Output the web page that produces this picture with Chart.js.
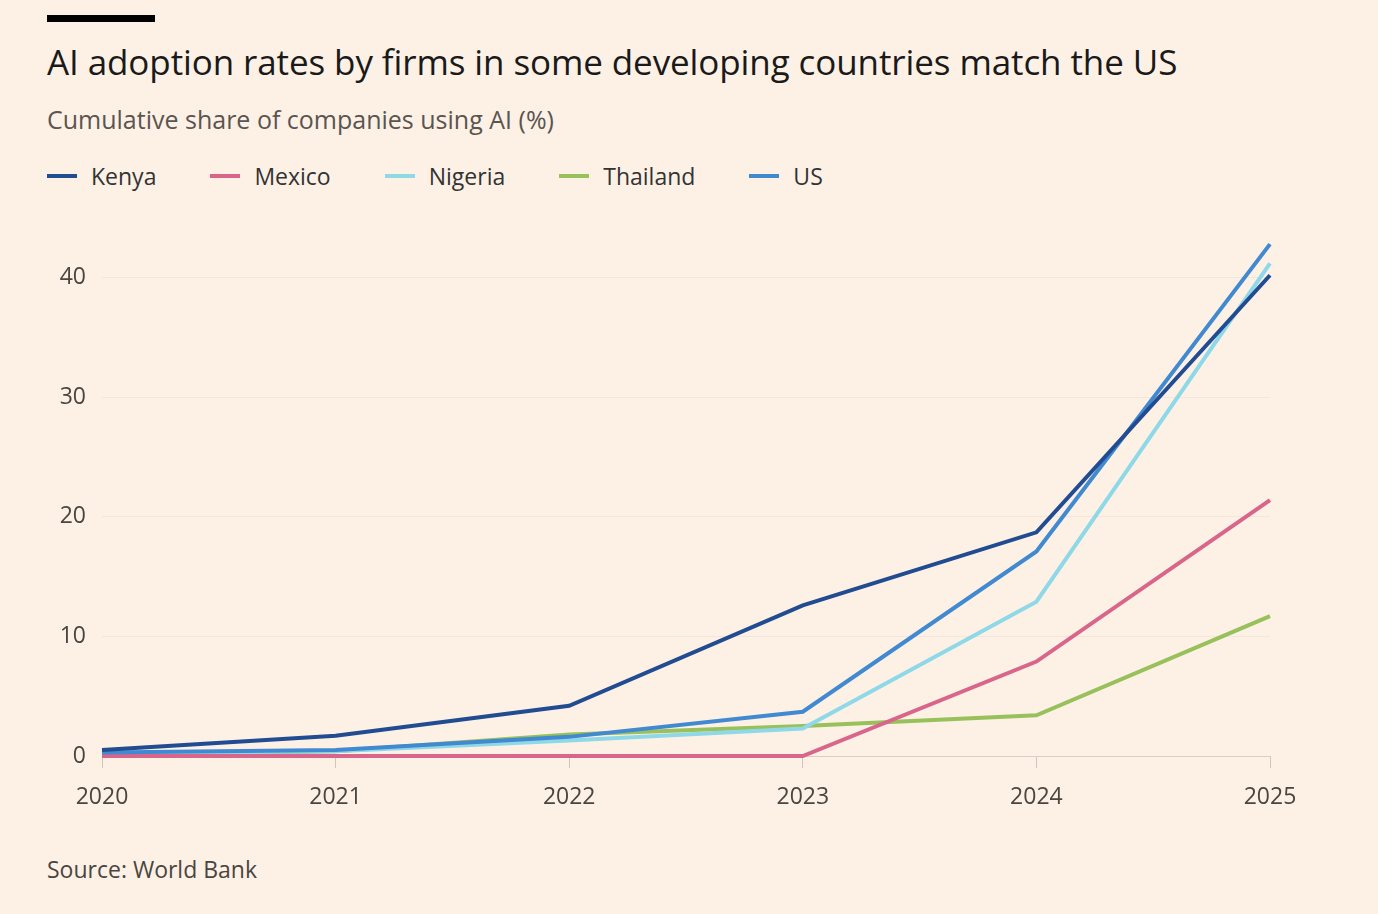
<!DOCTYPE html>
<html><head><meta charset="utf-8">
<script src="https://cdn.jsdelivr.net/npm/chart.js@4"></script>
<style>
body{margin:0;background:#fdf1e6;font-family:"Open Sans",Lato,sans-serif;width:1378px;height:914px;position:relative;overflow:hidden}
#bar{position:absolute;left:47px;top:15px;width:108px;height:7px;background:#000}
#title{position:absolute;left:47px;top:38px;font-size:35px;color:#1a1a1a;letter-spacing:-0.1px}
#sub{position:absolute;left:47px;top:102px;font-size:25px;color:#5a5550}
#legend{position:absolute;left:47px;top:160px;font-size:23px;color:#333;display:flex}
#legend span{display:flex;align-items:center;margin-right:54px}
#legend i{display:inline-block;width:30px;height:4px;margin-right:14px}
#src{position:absolute;left:47px;top:853px;font-size:23px;color:#4a4540}
#wrap{position:absolute;left:0;top:200px;width:1378px;height:620px}
</style></head><body>
<div id="bar"></div>
<div id="title">AI adoption rates by firms in some developing countries match the US</div>
<div id="sub">Cumulative share of companies using AI (%)</div>
<div id="legend"></div>
<div id="wrap"><canvas id="c"></canvas></div>
<div id="src">Source: World Bank</div>
<script>
const years=[2020,2021,2022,2023,2024,2025];
const kenya=[0.5,1.7,4.2,12.6,18.7,40.2];
const mexico=[0,0,0,0,7.9,21.4];
const nigeria=[0.2,0.4,1.3,2.3,12.9,41.2];
const thailand=[0.1,0.4,1.8,2.5,3.4,11.7];
const us=[0.3,0.5,1.6,3.7,17.1,42.8];
const series=[["Kenya",kenya,"#214c91"],["Mexico",mexico,"#d9668a"],["Nigeria",nigeria,"#8fd8e8"],["Thailand",thailand,"#98c15b"],["US",us,"#4189d0"]];
const lg=document.getElementById('legend');
series.forEach(s=>{lg.innerHTML+=`<span><i style="background:${s[2]}"></i>${s[0]}</span>`});
new Chart(document.getElementById('c'),{type:'line',
data:{datasets:series.map(s=>({label:s[0],data:years.map((y,i)=>({x:y,y:s[1][i]})),borderColor:s[2],borderWidth:4,pointRadius:0,tension:0,clip:false,order:s[0]==="Kenya"?0:(s[0]==="US"?1:2)}))},
options:{responsive:true,maintainAspectRatio:false,animation:false,
layout:{padding:{top:25,right:108,left:0,bottom:0}},
plugins:{legend:{display:false},tooltip:{enabled:false}},
scales:{
x:{type:'linear',min:2020,max:2025,afterFit:a=>{a.height=64},
 ticks:{stepSize:1,padding:16,color:'#4a4540',font:{size:23,family:'"Open Sans"'},callback:v=>String(v)},
 grid:{drawOnChartArea:false,tickLength:12,color:'#cfc6bd'},border:{color:'#d8cfc6'}},
y:{min:0,max:44,afterFit:a=>{a.width=102},
 ticks:{stepSize:10,padding:16,color:'#4a4540',font:{size:23,family:'"Open Sans"'},callback:v=>v%10===0?v:''},
 grid:{color:c=>(c.tick&&c.tick.value%10===0)?'#f4e6da':'rgba(0,0,0,0)',drawTicks:false},border:{display:false}}
}}});
</script>
</body></html>
